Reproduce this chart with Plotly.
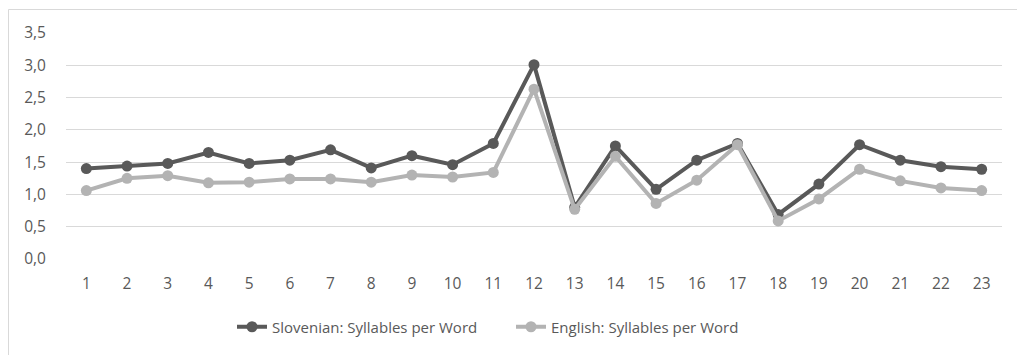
import plotly.graph_objects as go

# Text number (1-23) and mean syllables per word in each language
texts = list(range(1, 24))
slovenian = [1.40, 1.44, 1.48, 1.65, 1.48, 1.53, 1.69, 1.41, 1.60, 1.46, 1.79, 3.01,
             0.80, 1.75, 1.08, 1.53, 1.79, 0.69, 1.16, 1.77, 1.53, 1.43, 1.39]
english = [1.06, 1.25, 1.29, 1.18, 1.19, 1.24, 1.24, 1.19, 1.30, 1.27, 1.34, 2.63,
           0.77, 1.59, 0.86, 1.22, 1.77, 0.59, 0.93, 1.39, 1.21, 1.10, 1.06]
y_ticks = [0, 0.5, 1.0, 1.5, 2.0, 2.5, 3.0, 3.5]

W, H = 1017, 355
L, R, T, B = 66, 15, 33, 96
pw, ph = W - L - R, H - T - B

DARK = "#595959"
LIGHT = "#b3b3b3"
TEXT = "#595959"
FONT = "Open Sans"

fig = go.Figure()
fig.add_trace(go.Scatter(
    x=texts, y=slovenian, mode="lines+markers",
    name="Slovenian: Syllables per Word",
    line=dict(color=DARK, width=4),
    marker=dict(color=DARK, size=11),
))
fig.add_trace(go.Scatter(
    x=texts, y=english, mode="lines+markers",
    name="English: Syllables per Word",
    line=dict(color=LIGHT, width=4),
    marker=dict(color=LIGHT, size=11),
))

def px_x(p):
    return (p - L) / pw

def px_y(p):
    return (H - B - p) / ph

# Chart-area frame (left and top edges)
fig.add_shape(
    type="path", xref="paper", yref="paper",
    path=f"M {px_x(8.5)} {px_y(380)} L {px_x(8.5)} {px_y(9.5)} L {px_x(1040)} {px_y(9.5)}",
    line=dict(color="#d9d9d9", width=1), layer="below",
)

fig.update_layout(
    width=W, height=H,
    margin=dict(l=L, r=R, t=T, b=B, pad=0),
    paper_bgcolor="white", plot_bgcolor="white",
    separators=",.",
    font=dict(family=FONT, size=15, color=TEXT),
    showlegend=True,
    legend=dict(
        orientation="h", x=px_x(232), xanchor="left",
        y=px_y(327), yanchor="middle",
        font=dict(family=FONT, size=15, color=TEXT),
        bgcolor="rgba(0,0,0,0)",
        entrywidth=234, entrywidthmode="pixels",
        itemclick=False,
    ),
    xaxis=dict(
        range=[0.5, 23.5], tickmode="array", tickvals=texts,
        ticktext=[str(t) for t in texts],
        showgrid=False, zeroline=False, showline=False, ticks="",
        ticklabelstandoff=13,
        tickfont=dict(family=FONT, size=15.5, color=TEXT),
        fixedrange=True,
    ),
    yaxis=dict(
        range=[0, 3.5], tickmode="array", tickvals=y_ticks,
        tickformat=".1f",
        showgrid=True, gridcolor="#d9d9d9", gridwidth=1,
        zeroline=False, showline=False, ticks="",
        ticklabelstandoff=19,
        tickfont=dict(family=FONT, size=15.5, color=TEXT),
        fixedrange=True,
    ),
)

fig.write_html("out.html", config={"displayModeBar": False})
